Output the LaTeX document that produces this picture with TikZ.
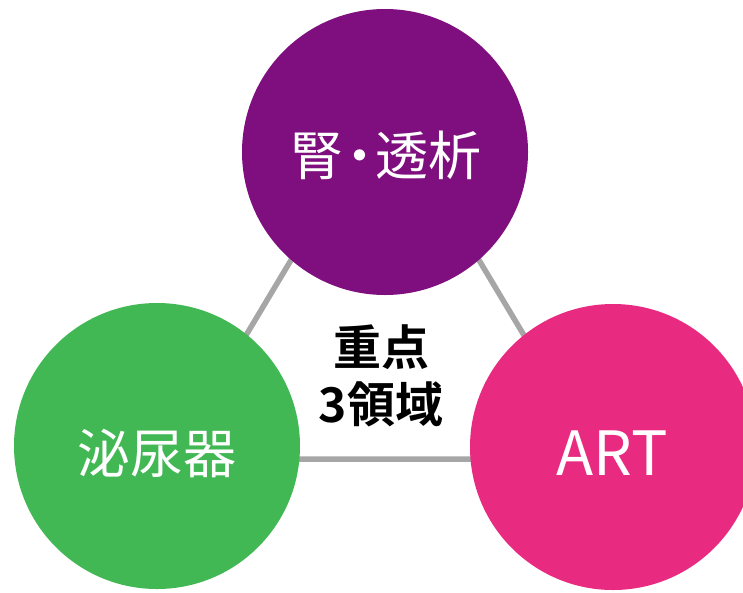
\documentclass[tikz,border=0pt]{standalone}
\usepackage{fontspec}
\newfontfamily\cjk{Noto Sans CJK JP}
\newfontfamily\cjkbold{Noto Sans CJK JP Bold}
\definecolor{kpurple}{RGB}{127,15,126}
\definecolor{kgreen}{RGB}{65,184,84}
\definecolor{kpink}{RGB}{232,43,128}
\definecolor{kgray}{RGB}{166,166,166}
\begin{document}
\begin{tikzpicture}[x=1pt,y=-1pt,
  area/.style={circle, minimum size=286pt, inner sep=0pt},
  label/.style={inner sep=0pt, text=white, font=\cjk\fontsize{53}{60}\selectfont},
  link/.style={draw=kgray, line width=5.5pt}]
\useasboundingbox (0,0) rectangle (743,592);
\clip (0,0) rectangle (743,592);
\coordinate (tA) at (385,103);
\coordinate (tB) at (172,459);
\coordinate (tC) at (598,459);
\draw[link] (tA) -- (tB) -- (tC) -- cycle;
\node[area, fill=kpurple] (kidney) at (385,152) {};
\node[area, fill=kgreen] (uro) at (157,446) {};
\node[area, fill=kpink] (art) at (613,447) {};
\node[label] (kidneyT) at (386,155) {腎\makebox[0.62em]{・}透析};
\node[label] (uroT) at (157,453) {泌尿器};
\node[label, font=\cjk\fontsize{61}{66}\selectfont] (artT) at (612,453) {ART};
\node[align=center, font=\cjkbold\fontsize{48}{57}\selectfont, inner sep=0pt] (core) at (381,376) {重点\\3領域};
\end{tikzpicture}
\end{document}
